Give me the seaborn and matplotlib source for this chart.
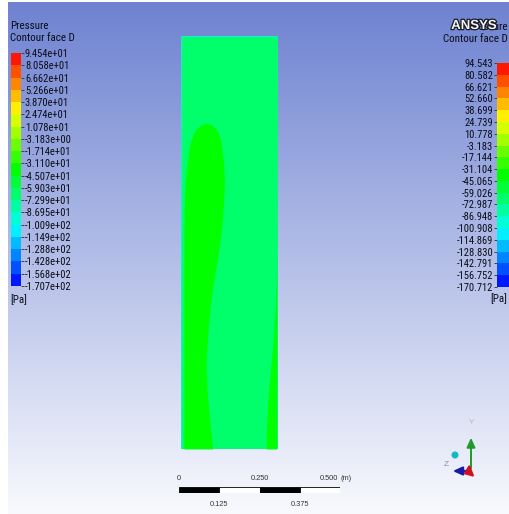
import os
import numpy as np
import matplotlib
matplotlib.use("Agg")
import matplotlib.pyplot as plt
import seaborn as sns
from matplotlib import font_manager
from matplotlib.font_manager import FontProperties
from matplotlib.colors import ListedColormap, LinearSegmentedColormap, Normalize
from matplotlib.patches import Rectangle, Circle
import matplotlib.patheffects as pe

# ---- contour levels of face D (Pa), bottom to top ----
levels = [-170.712, -156.752, -142.791, -128.830, -114.869, -100.908, -86.948,
          -72.987, -59.026, -45.0652, -31.104, -17.144, -3.183, 10.778, 24.739,
          38.699, 52.660, 66.621, 80.582, 94.543]

# ---- pressure zones on the face (heights from the bottom, widths from the left wall, m) ----
face_width = 0.30
face_height = 1.28
base_pressure = -66.0      # bulk of the face
core_pressure = -38.0      # elongated zone along the left wall
wall_pressure = -38.0      # thin zone along the lower right wall

core_height = [1.010, 1.005, 0.995, 0.983, 0.957, 0.931, 0.879, 0.827, 0.775, 0.723,
               0.671, 0.619, 0.567, 0.515, 0.463, 0.411, 0.359, 0.307, 0.255, 0.203,
               0.151, 0.099, 0.047, 0.0]
core_left = [0.078, 0.064, 0.050, 0.041, 0.031, 0.025, 0.018, 0.013, 0.011, 0.010,
             0.009, 0.009, 0.009, 0.009, 0.009, 0.009, 0.009, 0.009, 0.009, 0.009,
             0.009, 0.009, 0.009, 0.009]
core_right = [0.078, 0.094, 0.106, 0.114, 0.122, 0.127, 0.132, 0.135, 0.132, 0.129,
              0.124, 0.117, 0.109, 0.100, 0.093, 0.088, 0.083, 0.080, 0.078, 0.080,
              0.083, 0.088, 0.093, 0.098]

wall_height = [0.56, 0.50, 0.45, 0.40, 0.35, 0.30, 0.25, 0.20, 0.15, 0.10, 0.05, 0.0]
wall_left = [0.296, 0.294, 0.292, 0.289, 0.286, 0.282, 0.277, 0.273, 0.269, 0.266, 0.264, 0.263]
wall_right = [0.296] * len(wall_height)

scale_major = [0.0, 0.250, 0.500]
scale_minor = [0.125, 0.375]

# ---- styling ----
sns.set_style("white")
plt.rcParams["font.family"] = ["Liberation Sans", "DejaVu Sans"]


def narrow_font():
    wanted = ["liberationsansnarrow-regular", "arialn.ttf", "robotocondensed-regular",
              "dejavusanscondensed.ttf"]
    files = {os.path.basename(f.fname).lower(): f.fname
             for f in font_manager.fontManager.ttflist}
    for w in wanted:
        for name, path in files.items():
            if name.startswith(w):
                return path, w
    return None, None


nf_path, nf_key = narrow_font()
if nf_path is not None and nf_key != "dejavusanscondensed.ttf":
    LAB = FontProperties(fname=nf_path, size=7.6)
    TTL = FontProperties(fname=nf_path, size=7.9)
else:
    LAB = FontProperties(family=["Liberation Sans", "DejaVu Sans"], size=6.6)
    TTL = FontProperties(family=["Liberation Sans", "DejaVu Sans"], size=7.0)
SML = FontProperties(family=["Liberation Sans", "DejaVu Sans"], size=5.3)
TXT = "#0c0c18"

# rainbow colour map sampled at the centre of each band
rainbow = LinearSegmentedColormap.from_list(
    "rainbow5", [(0.0, "#0000ff"), (0.25, "#00ffff"), (0.5, "#00ff00"),
                 (0.75, "#ffff00"), (1.0, "#ff0000")])
n_bands = len(levels) - 1
band_colors = [rainbow((i + 0.5) / n_bands) for i in range(n_bands)]
band_cmap = ListedColormap(band_colors)
norm = Normalize(levels[0], levels[-1])
band_mid = [(levels[i] + levels[i + 1]) / 2 for i in range(n_bands)]


def color_of(p):
    return band_cmap(norm(p))


W_PX, H_PX = 509, 514
fig = plt.figure(figsize=(W_PX / 100, H_PX / 100), dpi=100)
fig.patch.set_facecolor("white")


def box(x0, y0, x1, y1):
    return [x0 / W_PX, 1 - y1 / H_PX, (x1 - x0) / W_PX, (y1 - y0) / H_PX]


# viewport background: blue at the top fading to white
bg = fig.add_axes(box(8, 2, 509, 514))
t = np.linspace(0, 1, 400)[:, None, None]
top = np.array([0.43, 0.51, 0.82])
bottom = np.array([0.975, 0.98, 0.995])
grad = (1 - t) * top + t * bottom
grad = np.repeat(grad, 4, axis=1)
bg.imshow(grad, aspect="auto", extent=[0, 1, 0, 1])
bg.set_axis_off()

# ---- pressure contour on face D ----
dom = fig.add_axes(box(181, 36, 278, 449))
dom.fill_betweenx([0, face_height], 0, face_width, color=color_of(base_pressure), lw=0)
dom.fill_betweenx(core_height, core_left, core_right, color=color_of(core_pressure), lw=0)
dom.fill_betweenx(wall_height, wall_left, wall_right, color=color_of(wall_pressure), lw=0)
dom.add_patch(Rectangle((0, 0), face_width, face_height, fill=False,
                        ec="#20e8c8", lw=1.0))
dom.set_xlim(0, face_width)
dom.set_ylim(0, face_height)
dom.set_axis_off()

# ---- legends: band strips drawn as one-column heatmaps ----
strip = np.array(band_mid[::-1]).reshape(-1, 1)


def legend_strip(rect, side, fmt):
    ax = fig.add_axes(rect)
    sns.heatmap(strip, ax=ax, cmap=band_cmap, vmin=levels[0], vmax=levels[-1],
                cbar=False, xticklabels=False, yticklabels=False)
    ax.set_yticks(np.arange(len(levels)))
    ax.set_yticklabels([fmt.format(v) for v in levels[::-1]])
    if side == "right":
        ax.yaxis.tick_right()
    else:
        ax.yaxis.tick_left()
    ax.tick_params(axis="y", length=2.0, width=0.7, color="#404050", pad=0.8,
                   left=(side == "left"), right=(side == "right"),
                   labelleft=(side == "left"), labelright=(side == "right"))
    for tk in ax.yaxis.get_major_ticks():
        for lab in (tk.label1, tk.label2):
            lab.set_fontproperties(LAB)
            lab.set_color(TXT)
    for s in ax.spines.values():
        s.set_visible(False)
    return ax


legend_strip(box(11, 53, 21, 286), "right", "{:.3e}")
legend_strip(box(497, 63, 509, 287), "left", "{:.3f}")

# ---- overlay: titles, scale bar, axis triad ----
ov = fig.add_axes([0, 0, 1, 1])
ov.set_xlim(0, W_PX)
ov.set_ylim(H_PX, 0)
ov.set_axis_off()
ov.patch.set_alpha(0)

ov.text(10, 26, "Pressure", fontproperties=TTL, color=TXT, va="center", ha="left")
ov.text(10, 38, "Contour face D", fontproperties=TTL, color=TXT, va="center", ha="left")
ov.text(10, 300, "[Pa]", fontproperties=TTL, color=TXT, va="center", ha="left")

ov.text(508, 27, "Pressure", fontproperties=TTL, color=TXT, va="center", ha="right")
ov.text(508, 39, "Contour face D", fontproperties=TTL, color=TXT, va="center", ha="right")
ov.text(507, 299, "[Pa]", fontproperties=TTL, color=TXT, va="center", ha="right")
ov.text(474, 26, "ANSYS", fontsize=9.5, fontweight="bold", color="#f4f4f4",
        va="center", ha="center",
        path_effects=[pe.withStroke(linewidth=1.8, foreground="#1a1a22")])

# scale bar
sb = fig.add_axes(box(179, 487, 340, 493))
for i, x0 in enumerate([0.0, 0.125, 0.25, 0.375]):
    sb.add_patch(Rectangle((x0, 0), 0.125, 1, fc="black" if i % 2 == 0 else "white",
                           ec="black", lw=0.6))
sb.set_xlim(0, 0.5)
sb.set_ylim(0, 1)
sb.set_axis_off()
scale_px = lambda v: 179 + v / 0.5 * 161
ov.text(scale_px(scale_major[0]), 479, "0", fontproperties=SML, color="#333", ha="center", va="center")
ov.text(scale_px(scale_major[1]), 479, "0.250", fontproperties=SML, color="#333", ha="center", va="center")
ov.text(scale_px(scale_major[2]) - 2, 479, "0.500", fontproperties=SML, color="#333", ha="right", va="center")
ov.text(scale_px(scale_major[2]) + 1, 479, "(m)", fontproperties=SML, color="#333", ha="left", va="center")
for v in scale_minor:
    ov.text(scale_px(v), 504, f"{v:.3f}", fontproperties=SML, color="#333", ha="center", va="center")

# axis triad
ox, oy = 471, 471
ov.annotate("", xy=(ox, 435), xytext=(ox, oy),
            arrowprops=dict(arrowstyle="-|>,head_length=0.55,head_width=0.25",
                            color="#1f9a2a", lw=1.4))
ov.annotate("", xy=(450, oy), xytext=(ox, oy),
            arrowprops=dict(arrowstyle="-|>,head_length=0.55,head_width=0.25",
                            color="#1a1aa8", lw=1.6))
ov.annotate("", xy=(461, 475), xytext=(ox, oy),
            arrowprops=dict(arrowstyle="-|>,head_length=0.45,head_width=0.35",
                            color="#d01020", lw=1.6))
ov.add_patch(Circle((455, 455), 2.8, color="#10b8c8"))
ov.text(472, 423, "Y", fontsize=6, color="#b8b8c4", ha="center", va="center")
ov.text(446, 465, "Z", fontsize=6, color="#8888c0", ha="center", va="center")

fig.savefig("out.png", dpi=100)
